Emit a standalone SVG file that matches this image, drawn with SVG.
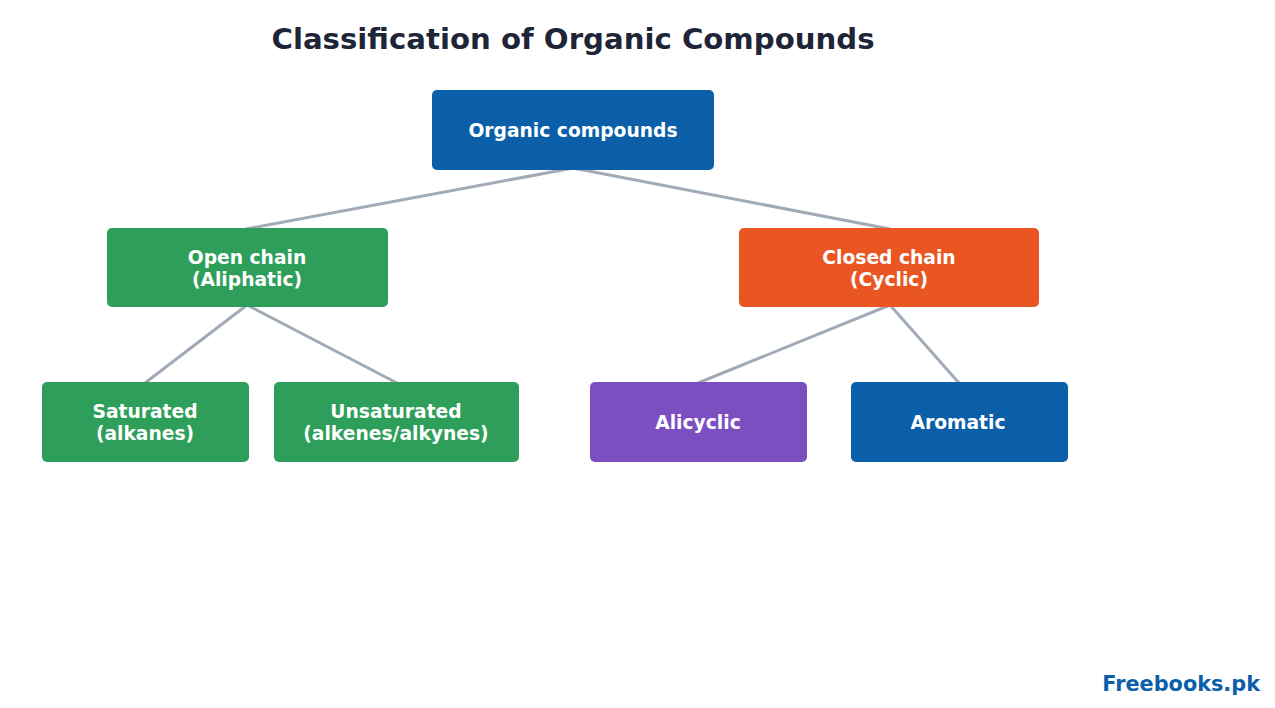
<svg xmlns="http://www.w3.org/2000/svg" width="1275" height="708" viewBox="0 0 1275 708">
<style>
.t{font-family:"DejaVu Sans","Liberation Sans",sans-serif;font-weight:bold;}
.lbl{font-size:18.7px;fill:#ffffff;text-anchor:middle;}
.edge{stroke:#a0aab8;stroke-width:3;fill:none;}
</style>
<rect width="1275" height="708" fill="#ffffff"/>
<text class="t" x="573" y="49" font-size="29.2" fill="#1e2537" text-anchor="middle">Classification of Organic Compounds</text>
<g id="connectors">
<line class="edge" x1="573" y1="168" x2="246" y2="229"/>
<line class="edge" x1="573" y1="168" x2="890" y2="229"/>
<line class="edge" x1="247" y1="305" x2="145" y2="383"/>
<line class="edge" x1="247" y1="305" x2="397" y2="383"/>
<line class="edge" x1="890" y1="305" x2="698" y2="383"/>
<line class="edge" x1="890" y1="305" x2="959" y2="383"/>
</g>
<g id="organic">
<rect x="432" y="90" width="282" height="80" rx="5" fill="#0b5fa8"/>
<text class="t lbl" x="573" y="136.5">Organic compounds</text>
</g>
<g id="open">
<rect x="107" y="228" width="281" height="79" rx="5" fill="#2e9f5a"/>
<text class="t lbl" x="247" y="263.5">Open chain</text>
<text class="t lbl" x="247" y="285.5">(Aliphatic)</text>
</g>
<g id="closed">
<rect x="739" y="228" width="300" height="79" rx="5" fill="#e95621"/>
<text class="t lbl" x="889" y="263.5">Closed chain</text>
<text class="t lbl" x="889" y="285.5">(Cyclic)</text>
</g>
<g id="saturated">
<rect x="42" y="382" width="207" height="80" rx="5" fill="#2e9f5a"/>
<text class="t lbl" x="145" y="417.5">Saturated</text>
<text class="t lbl" x="145" y="439.5">(alkanes)</text>
</g>
<g id="unsaturated">
<rect x="274" y="382" width="245" height="80" rx="5" fill="#2e9f5a"/>
<text class="t lbl" x="396" y="417.5">Unsaturated</text>
<text class="t lbl" x="396" y="439.5">(alkenes/alkynes)</text>
</g>
<g id="alicyclic">
<rect x="590" y="382" width="217" height="80" rx="5" fill="#7b4fbf"/>
<text class="t lbl" x="698" y="428.5">Alicyclic</text>
</g>
<g id="aromatic">
<rect x="851" y="382" width="217" height="80" rx="5" fill="#0b5fa8"/>
<text class="t lbl" x="958" y="428.5">Aromatic</text>
</g>
<text class="t" x="1260" y="691" font-size="20.8" fill="#0b5fa8" text-anchor="end">Freebooks.pk</text>
</svg>
